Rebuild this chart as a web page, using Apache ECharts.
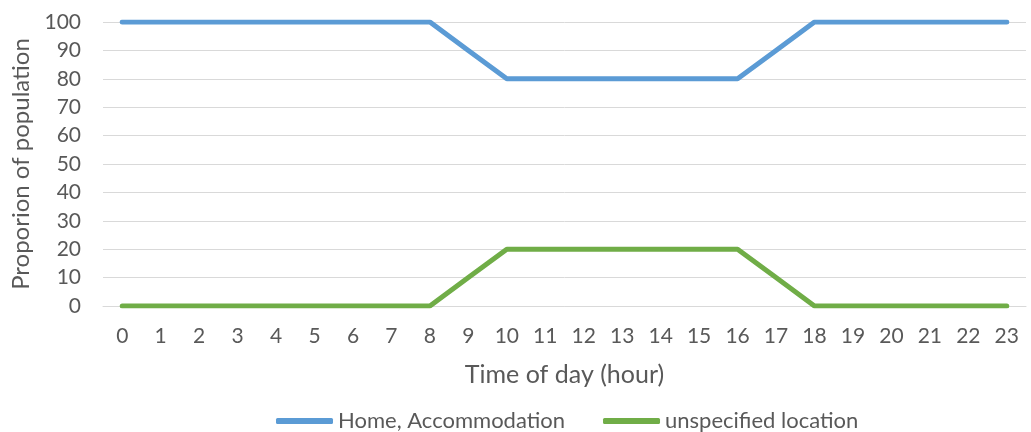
<!DOCTYPE html>
<html>
<head>
<meta charset="utf-8">
<script src="https://cdn.jsdelivr.net/npm/echarts@6/dist/echarts.min.js"></script>
<style>
  html, body { margin: 0; padding: 0; background: #fff; }
  #chart { width: 1031px; height: 432px; }
</style>
</head>
<body>
<div id="chart"></div>
<script>
// Hours of the day shown on the horizontal axis
const hours = ['0','1','2','3','4','5','6','7','8','9','10','11','12','13','14','15','16','17','18','19','20','21','22','23'];

// Share of population (%) by location, per hour
const homeAccommodation = [100,100,100,100,100,100,100,100,100,90,80,80,80,80,80,80,80,90,100,100,100,100,100,100];
const unspecifiedLocation = [0,0,0,0,0,0,0,0,0,10,20,20,20,20,20,20,20,10,0,0,0,0,0,0];

const seriesNames = ['Home, Accommodation', 'unspecified location'];

const textColor = '#595959';
const fontFamily = 'Lato, "Open Sans", sans-serif';

const chart = echarts.init(document.getElementById('chart'));
chart.setOption({
  animation: false,
  textStyle: { fontFamily: fontFamily, color: textColor },
  grid: { left: 103, right: 5, top: 22, bottom: 126 },
  legend: {
    bottom: 0,
    left: 276,
    padding: 0,
    itemWidth: 57,
    itemHeight: 6,
    itemGap: 38,
    icon: 'roundRect',
    textStyle: { fontSize: 22, color: textColor, fontFamily: fontFamily },
    data: seriesNames
  },
  xAxis: {
    type: 'category',
    data: hours,
    boundaryGap: true,
    name: 'Time of day (hour)',
    nameLocation: 'middle',
    nameGap: 56,
    nameTextStyle: { fontSize: 25, color: textColor },
    axisLine: { show: true, lineStyle: { color: '#D9D9D9', width: 1 } },
    axisTick: { show: false },
    axisLabel: { fontSize: 21, color: textColor, margin: 20 }
  },
  yAxis: {
    type: 'value',
    min: 0,
    max: 100,
    interval: 10,
    name: 'Proporion of population',
    nameLocation: 'middle',
    nameGap: 69,
    nameTextStyle: { fontSize: 24, color: textColor },
    axisLine: { show: false },
    axisTick: { show: false },
    splitLine: { lineStyle: { color: '#D9D9D9', width: 1 } },
    axisLabel: { fontSize: 21, color: textColor, margin: 22 }
  },
  series: [
    {
      name: seriesNames[0],
      type: 'line',
      data: homeAccommodation,
      symbol: 'none',
      lineStyle: { color: '#5B9BD5', width: 5, cap: 'round', join: 'round' },
      itemStyle: { color: '#5B9BD5' }
    },
    {
      name: seriesNames[1],
      type: 'line',
      data: unspecifiedLocation,
      symbol: 'none',
      lineStyle: { color: '#70AD47', width: 5, cap: 'round', join: 'round' },
      itemStyle: { color: '#70AD47' }
    }
  ]
});
</script>
</body>
</html>
